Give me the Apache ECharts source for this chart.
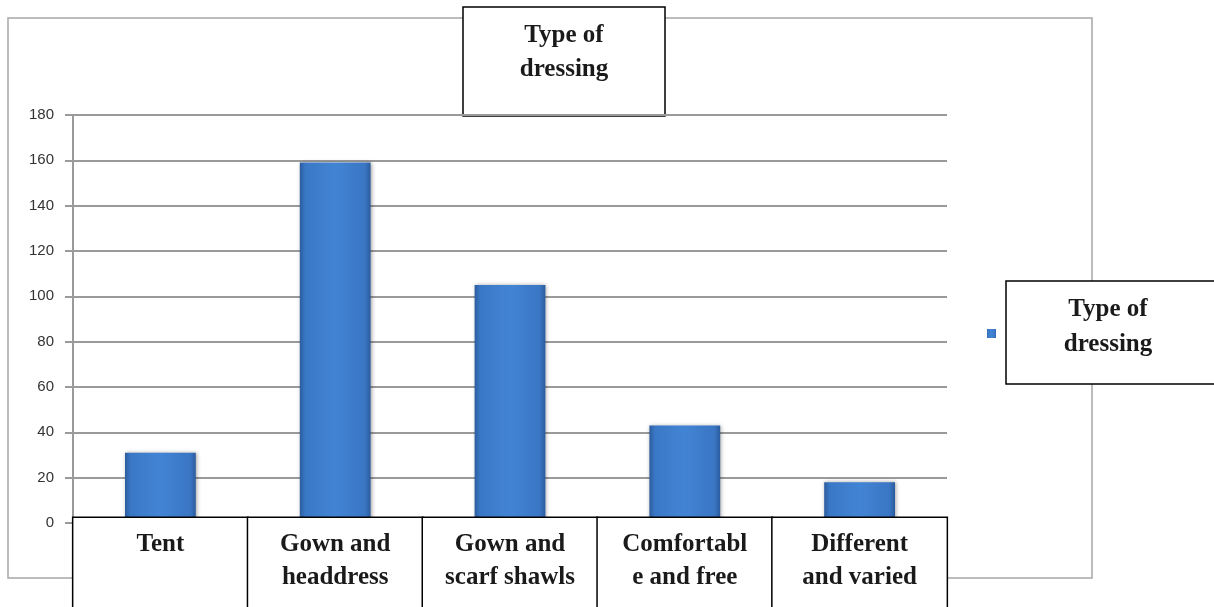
<!DOCTYPE html>
<html>
<head>
<meta charset="utf-8">
<script src="https://cdn.jsdelivr.net/npm/echarts@6/dist/echarts.min.js"></script>
<style>
  html, body { margin: 0; padding: 0; background: #fff; }
  #chart { width: 1214px; height: 607px; }
</style>
</head>
<body>
<div id="chart"></div>
<script>
// Dressing types and counts
const categories = [
  'Tent',
  'Gown and\nheaddress',
  'Gown and\nscarf shawls',
  'Comfortabl\ne and free',
  'Different\nand varied'
];
const seriesName = 'Type of dressing';
const counts = [31, 159, 105, 43, 18];
const yTicks = { min: 0, max: 180, interval: 20 };

const serif = '"Liberation Serif", "DejaVu Serif", serif';
const sans = '"Liberation Sans", Arial, sans-serif';

const barFill = new echarts.graphic.LinearGradient(0, 0, 1, 0, [
  { offset: 0, color: '#2c5c9f' },
  { offset: 0.08, color: '#3a78c6' },
  { offset: 0.5, color: '#4284d4' },
  { offset: 0.92, color: '#3a76c4' },
  { offset: 1, color: '#2b5b9e' }
]);

const chart = echarts.init(document.getElementById('chart'), null, { renderer: 'canvas' });

chart.setOption({
  animation: false,
  backgroundColor: '#fff',
  grid: {
    left: 73, right: 267, top: 115, bottom: 84,
    containLabel: false,
    outerBoundsMode: 'none'
  },
  legend: {
    left: 982, top: 324,
    icon: 'rect', itemWidth: 9, itemHeight: 9,
    formatter: () => '',
    data: [seriesName]
  },
  xAxis: {
    type: 'category',
    data: categories,
    z: 5,
    axisLine: { show: true, lineStyle: { color: '#9a9a9a', width: 2 } },
    axisTick: { show: false },
    splitLine: { show: false },
    axisLabel: {
      interval: 0,
      margin: -5,
      width: 174,
      height: 100,
      padding: [10, 0, 0, 0],
      verticalAlign: 'top',
      align: 'center',
      backgroundColor: '#fff',
      borderColor: '#000',
      borderWidth: 1.5,
      fontFamily: serif,
      fontWeight: 'bold',
      fontSize: 25,
      lineHeight: 33,
      color: '#1a1a1a'
    }
  },
  yAxis: {
    type: 'value',
    min: yTicks.min, max: yTicks.max, interval: yTicks.interval,
    axisLine: { show: true, lineStyle: { color: '#9a9a9a', width: 2 } },
    axisTick: { show: true, length: 8, lineStyle: { color: '#9a9a9a', width: 2 } },
    splitLine: { show: true, lineStyle: { color: '#9a9a9a', width: 2 } },
    axisLabel: { margin: 19, fontFamily: sans, fontSize: 15, color: '#333' }
  },
  series: [{
    name: seriesName,
    type: 'bar',
    data: counts,
    barWidth: '40.5%',
    itemStyle: {
      color: barFill,
      shadowColor: 'rgba(0,0,0,0.35)',
      shadowBlur: 4,
      shadowOffsetX: 1
    }
  }],
  graphic: [
    // outer frame
    {
      type: 'rect', z: -10, silent: true,
      shape: { x: 8, y: 18, width: 1084, height: 560 },
      style: { fill: 'none', stroke: '#a6a6a6', lineWidth: 1.5 }
    },
    // title box
    {
      type: 'group', z: 20,
      children: [
        {
          type: 'rect',
          shape: { x: 463, y: 7, width: 202, height: 109 },
          style: { fill: '#fff', stroke: '#000', lineWidth: 1.5 }
        },
        {
          type: 'text',
          x: 564, y: 19,
          style: {
            text: 'Type of\ndressing',
            align: 'center', verticalAlign: 'top',
            font: 'bold 25px ' + serif, lineHeight: 34, fill: '#1a1a1a'
          }
        }
      ]
    },
    // legend label box
    {
      type: 'group', z: 20,
      children: [
        {
          type: 'rect',
          shape: { x: 1006, y: 281, width: 212, height: 103 },
          style: { fill: '#fff', stroke: '#000', lineWidth: 1.5 }
        },
        {
          type: 'text',
          x: 1108, y: 292,
          style: {
            text: 'Type of\ndressing',
            align: 'center', verticalAlign: 'top',
            font: 'bold 25px ' + serif, lineHeight: 35, fill: '#1a1a1a'
          }
        }
      ]
    }
  ]
});
</script>
</body>
</html>
